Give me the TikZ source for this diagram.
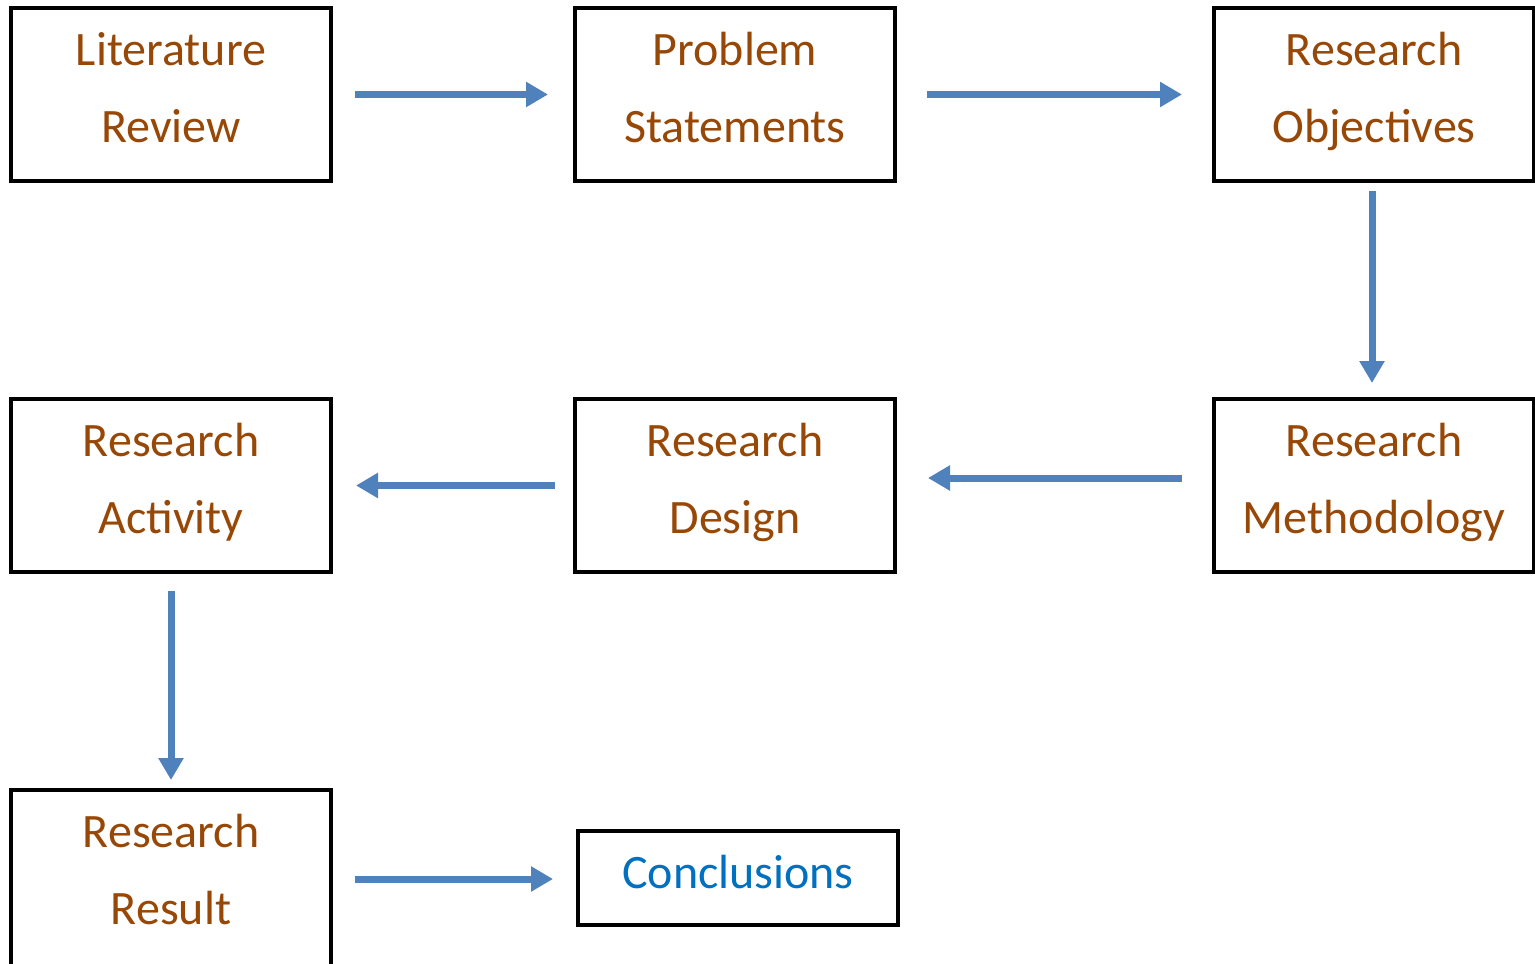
\documentclass[tikz,border=0pt]{standalone}
\usepackage{fontspec}
\setmainfont{Carlito}
\usetikzlibrary{arrows.meta}
\definecolor{textbrown}{HTML}{984806}
\definecolor{arrowblue}{HTML}{4F81BD}
\definecolor{endblue}{HTML}{0070C0}
\tikzset{
  stagebox/.style={draw=black, line width=4pt, minimum width=320pt, minimum height=173pt, inner sep=0pt},
  endbox/.style={draw=black, line width=4pt, minimum width=320pt, minimum height=94pt, inner sep=0pt},
  label/.style={anchor=base, inner sep=0pt, text=textbrown, font=\fontsize{48}{48}\selectfont},
  flow/.style={draw=arrowblue, line width=7pt, -{Triangle[length=22pt,width=24pt]}},
}
\begin{document}
\begin{tikzpicture}[x=1pt, y=-1pt]
\useasboundingbox (0,0) rectangle (1535,964);
\clip (0,0) rectangle (1535,964);
\fill[white] (0,0) rectangle (1535,964);

% boxes
\node[stagebox] (lr) at (171,94.5) {};
\node[stagebox] (ps) at (735,94.5) {};
\node[stagebox] (ro) at (1374,94.5) {};
\node[stagebox] (ra) at (171,485.5) {};
\node[stagebox] (rd) at (735,485.5) {};
\node[stagebox] (rm) at (1374,485.5) {};
\node[stagebox, minimum height=184pt] (rr) at (171,882) {};
\node[endbox]   (cc) at (738,878) {};

% two-line captions, measured from the top edge of each box
\foreach \b/\one/\two in {lr/Literature/Review, ps/Problem/Statements, ro/Research/Objectives,
                         ra/Research/Activity, rd/Research/Design, rm/Research/Methodology,
                         rr/Research/Result}{
  \node[label] (\b-a) at ([yshift=-59pt]\b.north) {\one};
  \node[label] (\b-b) at ([yshift=-136pt]\b.north) {\two};
}
\node[label, text=endblue] (cc-a) at ([yshift=-10pt]cc.center) {Conclusions};

% flow arrows
\draw[flow, shorten <=22pt, shorten >=25pt] (lr.east) -- (ps.west);
\draw[flow, shorten <=30pt, shorten >=30pt] (ps.east) -- (ro.west);
\draw[flow, shorten <=8pt, shorten >=14pt] ([xshift=-2pt]ro.south) -- ([xshift=-2pt]rm.north);
\draw[flow, shorten <=30pt, shorten >=31pt] ([yshift=7.5pt]rm.west) -- ([yshift=7.5pt]rd.east);
\draw[flow, shorten <=18pt, shorten >=23pt] (rd.west) -- (ra.east);
\draw[flow, shorten <=17pt, shorten >=8pt] (ra.south) -- (rr.north);
\draw[flow, shorten <=22pt, shorten >=23pt] ([yshift=3pt]rr.east) -- ([yshift=3pt]rr.east -| cc.west);
\end{tikzpicture}
\end{document}
